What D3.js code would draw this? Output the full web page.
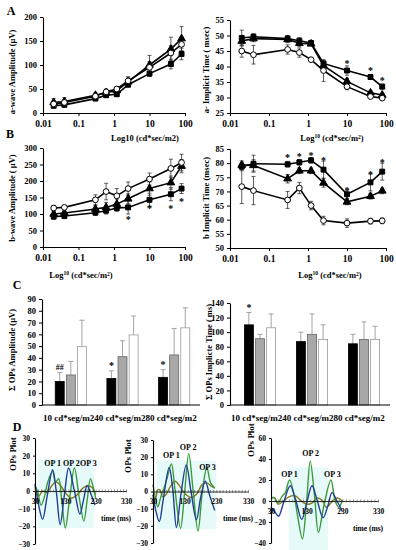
<!DOCTYPE html>
<html><head><meta charset="utf-8">
<script src="https://cdn.jsdelivr.net/npm/d3@7"></script>
<style>body{margin:0;background:#fff}svg text{font-family:"Liberation Serif","Times New Roman",serif;font-weight:bold;fill:#000}</style>
</head><body><svg id="c" width="396" height="550"></svg>
<script>
// ---------- DATA ----------
const intensity = [0.02, 0.04, 0.3, 0.6, 1.2, 2.5, 10, 40, 80];
const logTicks = [0.01, 0.1, 1, 10, 100];

const aAmpSquare = [15, 17, 30, 37, 39, 59, 82, 102, 123];
const aAmpSquareErr = [4, 4, 4, 4, 4, 5, 6, 10, 12];
const aAmpTriangle = [22, 24, 37, 42, 47, 65, 100, 133, 155];
const aAmpTriangleErr = [8, 8, 5, 5, 5, 10, 20, 25, 25];
const aAmpCircle = [19, 22, 35, 44, 50, 67, 95, 125, 143];
const aAmpCircleErr = [6, 6, 5, 6, 5, 8, 12, 15, 15];

const aTimeSquare = [49.2, 49.6, 49.0, 48.3, 47.6, 41.0, 38.7, 36.6, 33.5];
const aTimeSquareErr = [2.5, 1, 1, 1, 0.6, 0.8, 1.5, 0.8, 0.8];
const aTimeTriangle = [48.2, 49.0, 48.7, 47.5, 47.3, 40.3, 35.2, 31.5, 30.8];
const aTimeTriangleErr = [1.5, 1, 1, 1, 0.6, 0.8, 1, 0.6, 0.6];
const aTimeCircle = [45.0, 43.8, 45.5, 44.5, 42.2, 38.7, 33.5, 30.3, 29.8];
const aTimeCircleErr = [2, 3, 1.5, 1.5, 0.6, 3.5, 1, 0.6, 0.6];
const aTimeStarX = [10, 40, 80];
const aTimeStarY = [41.6, 39.4, 36.2];

const bAmpCircle = [118, 120, 143, 168, 155, 177, 206, 238, 256];
const bAmpCircleErr = [8, 6, 15, 25, 22, 20, 18, 28, 25];
const bAmpTriangle = [100, 103, 115, 120, 130, 146, 177, 195, 245];
const bAmpTriangleErr = [8, 8, 10, 15, 15, 15, 20, 20, 20];
const bAmpSquare = [92, 94, 104, 110, 118, 120, 143, 160, 177];
const bAmpSquareErr = [8, 8, 8, 10, 10, 20, 20, 20, 15];
const bAmpStarX = [2.5, 10, 40, 80];
const bAmpStarY = [88, 124, 122, 143];

const bTimeSquare = [78.8, 79.8, 79.6, 80.3, 81.0, 77.7, 69.0, 73.2, 77.0];
const bTimeSquareErr = [1.5, 3, 1, 1, 1, 3, 1.5, 3, 3];
const bTimeTriangle = [79.3, 79.2, 74.5, 77.3, 77.3, 73.0, 66.3, 68.3, 70.2];
const bTimeTriangleErr = [1.5, 2, 1.5, 1, 1, 1.5, 1, 1, 1];
const bTimeCircle = [71.7, 70.3, 67.0, 71.2, 65.0, 59.7, 58.8, 59.5, 59.6];
const bTimeCircleErr = [6, 5, 3, 2, 1.5, 1.5, 1.5, 1, 1];
const bTimeStarX = [0.3, 0.6, 1.2, 2.5, 10, 40, 80];
const bTimeStarY = [82.6, 82.9, 83.3, 81.8, 71.0, 76.8, 81.0];

const doseGroups = ["10", "40", "80"];
const barKinds = ["black", "gray", "white"];
const opsAmpBlack = [20, 22.5, 23.5];
const opsAmpBlackErr = [7.5, 6.5, 6.5];
const opsAmpGray = [25.5, 41, 42.5];
const opsAmpGrayErr = [11.5, 13.5, 22.5];
const opsAmpWhite = [49.5, 59.5, 65.5];
const opsAmpWhiteErr = [22.5, 16, 17];
const opsAmpMarks = ["##", "*", "*"];
const opsTimeBlack = [110, 87, 84];
const opsTimeBlackErr = [17, 13, 13];
const opsTimeGray = [91, 97, 90];
const opsTimeGrayErr = [6, 28, 24];
const opsTimeWhite = [106, 90, 90];
const opsTimeWhiteErr = [19, 20, 18];
const opsTimeMarks = ["*", "", ""];

const opTicks = [30, 130, 230, 330];
const d1Blue = [[30,4],[42,-8],[55,-16],[70,-3],[88,12],[100,0],[113,-19],[127,-2],[141,13],[160,0],[178,-13],[190,-5],[202,3],[215,-2],[228,-8]];
const d1Green = [[30,3],[38,0],[50,-8],[60,-4],[72,5],[88,11],[98,5],[108,7],[118,-5],[130,-21],[145,-3],[160,13],[176,-4],[191,-17],[202,-5],[213,7],[222,2],[230,-4]];
const d1Olive = [[30,2],[42,-3],[55,0],[70,-1],[85,3],[100,5],[115,3],[130,-1],[150,-4],[170,-2],[190,2],[205,3],[218,2],[230,-2]];
const d2Blue = [[30,-2],[40,-12],[50,-17.5],[62,-5],[81,14],[92,2],[104,-21],[118,-2],[135,15.5],[150,0],[167,-16.5],[181,-3],[195,6],[210,-3],[225,-11]];
const d2Green = [[30,4],[38,-4],[45,-9],[55,-3],[65,2],[75,8],[88,16],[100,0],[117,-21.5],[130,0],[143,22],[157,0],[172,-23],[186,0],[200,14],[212,5],[225,2]];
const d2Olive = [[30,-2],[38,-4],[45,1],[52,1],[60,-3],[70,-2],[85,3],[100,6],[115,3],[130,-1],[150,-3.5],[170,-1],[185,4],[200,5],[215,3],[225,2]];
const d3Green = [[30,3],[40,3],[50,-2],[60,4],[70,8],[82,20],[95,5],[105,-15],[118,-36],[130,0],[140,38],[152,5],[163,-30],[178,-5],[198,20],[210,0],[220,-6],[230,1]];
const d3Blue = [[30,-6],[40,-10],[51,-14.5],[65,-2],[84,14.5],[100,0],[116,-17.5],[130,-2],[145,14.5],[160,0],[176,-16],[190,-4],[201,8],[215,0],[230,-10]];
const d3Olive = [[30,3],[40,3],[50,-3],[65,0],[80,4],[97,5],[115,0],[130,-3],[145,-2],[160,3],[175,0],[185,-6],[205,1],[215,3],[230,0]];

// ---------- DRAW ----------
const svg = d3.select("#c");

function txt(g, x, y, s, size, anchor, rot) {
  const t = g.append("text").attr("x", x).attr("y", y).attr("font-size", size)
    .attr("text-anchor", anchor || "middle").attr("dy", "0.35em");
  if (rot) t.attr("transform", `rotate(${rot},${x},${y})`);
  if (Array.isArray(s)) {
    s.forEach(p => {
      const sp = t.append("tspan").text(p.t);
      if (p.sup) sp.attr("font-size", size * 0.65).attr("dy", "-0.45em");
      if (p.after) sp.attr("dy", "0.3em");
    });
  } else t.text(s);
  return t;
}
const logSup = [{t:"Log"},{t:"10",sup:true},{t:" (cd*sec/m",after:true},{t:"2",sup:true},{t:")",after:true}];

function styleAxis(a, size) {
  a.select(".domain").attr("stroke", "#000").attr("stroke-width", 1.1);
  a.selectAll(".tick line").attr("stroke", "#000");
  a.selectAll("text").attr("font-size", size).attr("font-family", null);
  a.attr("font-family", null);
}

function linePanel(p) {
  const g = svg.append("g");
  const x = d3.scaleLog().domain([0.01, 100]).range([p.x0, p.x1]);
  const y = d3.scaleLinear().domain(p.yDomain).range([p.yBot, p.yTop]);
  const ax = g.append("g").attr("transform", `translate(0,${p.yBot})`)
    .call(d3.axisBottom(x).tickValues(logTicks).tickFormat(d => String(d)).tickSize(3).tickSizeOuter(0).tickPadding(4));
  styleAxis(ax, 9.5);
  const ay = g.append("g").attr("transform", `translate(${p.x0},0)`)
    .call(d3.axisLeft(y).tickValues(p.yTicks).tickSize(3).tickSizeOuter(0).tickPadding(3));
  styleAxis(ay, 8.5);
  p.series.forEach(s => {
    const pts = intensity.map((v, i) => ({x: v, y: s.vals[i], e: s.errs[i]}));
    pts.forEach(d => {
      const cx = x(d.x);
      g.append("line").attr("x1", cx).attr("x2", cx).attr("y1", y(d.y - d.e)).attr("y2", y(d.y + d.e)).attr("stroke", "#333").attr("stroke-width", 0.8);
      [d.y - d.e, d.y + d.e].forEach(v => g.append("line").attr("x1", cx - 2).attr("x2", cx + 2).attr("y1", y(v)).attr("y2", y(v)).attr("stroke", "#333").attr("stroke-width", 0.8));
    });
  });
  p.series.forEach(s => {
    const pts = intensity.map((v, i) => [x(v), y(s.vals[i])]);
    g.append("path").attr("d", d3.line()(pts)).attr("fill", "none").attr("stroke", "#000").attr("stroke-width", 1.6);
  });
  p.series.forEach(s => {
    const sym = s.shape === "square" ? d3.symbolSquare : s.shape === "triangle" ? d3.symbolTriangle : d3.symbolCircle;
    const size = s.shape === "square" ? 24 : 26;
    intensity.forEach((v, i) => {
      g.append("path").attr("d", d3.symbol().type(sym).size(size)())
        .attr("transform", `translate(${x(v)},${y(s.vals[i])})`)
        .attr("fill", s.shape === "circle" ? "#fff" : "#000").attr("stroke", "#000").attr("stroke-width", 1);
    });
  });
  if (p.starX) p.starX.forEach((v, i) => txt(g, x(v), y(p.starY[i]) + 2, "*", 10));
  txt(g, p.ylabX, p.ylabY, p.ylab, 8.5, "middle", -90);
  txt(g, p.xlabX, p.xlabY, p.xlab, 8.5, "middle");
}

linePanel({x0: 43, x1: 185, yTop: 17, yBot: 113, yDomain: [0, 200], yTicks: [0,50,100,150,200],
  series: [{vals: aAmpSquare, errs: aAmpSquareErr, shape: "square"}, {vals: aAmpTriangle, errs: aAmpTriangleErr, shape: "triangle"}, {vals: aAmpCircle, errs: aAmpCircleErr, shape: "circle"}],
  ylab: "a-wave Amplitude (µV)", ylabX: 12, ylabY: 72, xlab: "Log10 (cd*sec/m2)", xlabX: 145, xlabY: 138});
linePanel({x0: 230, x1: 386, yTop: 20, yBot: 113, yDomain: [25, 55], yTicks: [25,30,35,40,45,50,55],
  series: [{vals: aTimeSquare, errs: aTimeSquareErr, shape: "square"}, {vals: aTimeTriangle, errs: aTimeTriangleErr, shape: "triangle"}, {vals: aTimeCircle, errs: aTimeCircleErr, shape: "circle"}],
  starX: aTimeStarX, starY: aTimeStarY,
  ylab: "a- Implicit Time ( msec)", ylabX: 206, ylabY: 70, xlab: logSup, xlabX: 332, xlabY: 138});
linePanel({x0: 43, x1: 185, yTop: 148, yBot: 247, yDomain: [0, 300], yTicks: [0,50,100,150,200,250,300],
  series: [{vals: bAmpSquare, errs: bAmpSquareErr, shape: "square"}, {vals: bAmpTriangle, errs: bAmpTriangleErr, shape: "triangle"}, {vals: bAmpCircle, errs: bAmpCircleErr, shape: "circle"}],
  starX: bAmpStarX, starY: bAmpStarY,
  ylab: "b-wave Amplitude ( µV)", ylabX: 12, ylabY: 198, xlab: logSup, xlabX: 81, xlabY: 275});
linePanel({x0: 230, x1: 386, yTop: 149, yBot: 248, yDomain: [50, 85], yTicks: [50,55,60,65,70,75,80,85],
  series: [{vals: bTimeSquare, errs: bTimeSquareErr, shape: "square"}, {vals: bTimeTriangle, errs: bTimeTriangleErr, shape: "triangle"}, {vals: bTimeCircle, errs: bTimeCircleErr, shape: "circle"}],
  starX: bTimeStarX, starY: bTimeStarY,
  ylab: "b Implicit Time (msec)", ylabX: 206, ylabY: 198, xlab: logSup, xlabX: 330, xlabY: 275});

function barPanel(p) {
  const g = svg.append("g");
  const x0 = d3.scaleBand().domain(doseGroups).range([p.bx0, p.bx1]);
  const x1 = d3.scaleBand().domain(barKinds).range([x0.bandwidth() / 2 - 16, x0.bandwidth() / 2 + 16]).paddingInner(0.12);
  const y = d3.scaleLinear().domain([0, p.ymax]).range([405, p.yTop]);
  const fills = {black: "#000", gray: "#a8a8a8", white: "#fff"};
  const strokes = {black: "#000", gray: "#666", white: "#999"};
  doseGroups.forEach((grp, gi) => {
    barKinds.forEach((k, ki) => {
      const v = p.vals[ki][gi], e = p.errs[ki][gi];
      const bx = x0(grp) + x1(k), bw = x1.bandwidth(), cx = bx + bw / 2;
      g.append("line").attr("x1", cx).attr("x2", cx).attr("y1", y(v)).attr("y2", y(v + e)).attr("stroke", "#999").attr("stroke-width", 0.9);
      g.append("line").attr("x1", cx - 2.5).attr("x2", cx + 2.5).attr("y1", y(v + e)).attr("y2", y(v + e)).attr("stroke", "#999").attr("stroke-width", 0.9);
      g.append("rect").attr("x", bx + 0.4).attr("y", y(v)).attr("width", bw - 0.8).attr("height", y(0) - y(v))
        .attr("fill", fills[k]).attr("stroke", strokes[k]).attr("stroke-width", 0.8);
    });
    const m = p.marks[gi];
    if (m) {
      const v = p.vals[0][gi] + p.errs[0][gi];
      txt(g, x0(grp) + x1("black") + x1.bandwidth() / 2, y(v) - 5, m, m === "*" ? 10 : 8);
    }
  });
  const ax = g.append("g").attr("transform", `translate(0,405)`)
    .call(d3.axisBottom(x0).tickFormat("").tickSize(0).tickSizeOuter(0));
  ax.select(".domain").attr("d", `M${p.ax0},0H${p.bx1}`).attr("stroke", "#000").attr("stroke-width", 1.1);
  const ay = g.append("g").attr("transform", `translate(${p.ax0},0)`)
    .call(d3.axisLeft(y).tickValues(p.yTicks).tickSize(3).tickSizeOuter(0).tickPadding(3));
  styleAxis(ay, 8.5);
  txt(g, p.ax0 + 1, 418, doseGroups.map(d => d + " cd*seg/m2").join(""), 9, "start");
  txt(g, p.ylabX, p.ylabY, p.ylab, 8.5, "middle", -90);
}
barPanel({ax0: 42, bx0: 45, bx1: 200, ymax: 90, yTop: 299, yTicks: d3.range(0, 91, 10),
  vals: [opsAmpBlack, opsAmpGray, opsAmpWhite], errs: [opsAmpBlackErr, opsAmpGrayErr, opsAmpWhiteErr], marks: opsAmpMarks,
  ylab: "Σ OPs Amplitude (µV)", ylabX: 12, ylabY: 350});
barPanel({ax0: 230, bx0: 234, bx1: 390, ymax: 140, yTop: 303, yTicks: d3.range(0, 141, 20),
  vals: [opsTimeBlack, opsTimeGray, opsTimeWhite], errs: [opsTimeBlackErr, opsTimeGrayErr, opsTimeWhiteErr], marks: opsTimeMarks,
  ylab: "Σ OPs Implicte Time ( ms)", ylabX: 209, ylabY: 352});

function opsPanel(p) {
  const g = svg.append("g");
  const x = d3.scaleLinear().domain([30, 330]).range([p.x0, p.x1]);
  const y = d3.scaleLinear().domain(p.yDomain).range([p.yBot, p.yTop]);
  g.append("rect").attr("x", x(p.shade[0])).attr("width", x(p.shade[1]) - x(p.shade[0]))
    .attr("y", y(p.shade[2])).attr("height", y(p.shade[3]) - y(p.shade[2])).attr("fill", "#e6fafa");
  const line = d3.line().x(d => x(d[0])).y(d => y(d[1])).curve(d3.curveCatmullRom.alpha(0.5));
  p.curves.forEach(c => g.append("path").attr("d", line(c.data)).attr("fill", "none").attr("stroke", c.color).attr("stroke-width", 1.4));
  const ay = g.append("g").attr("transform", `translate(${p.x0},0)`)
    .call(d3.axisLeft(y).tickValues(p.yTicks).tickSize(2).tickSizeOuter(0).tickPadding(3));
  styleAxis(ay, 7.5);
  const ax = g.append("g").attr("transform", `translate(0,${y(0)})`)
    .call(d3.axisBottom(x).tickValues(d3.range(30, 331, 10)).tickFormat(d => opTicks.includes(d) ? d : "").tickSize(1.5).tickSizeOuter(0).tickPadding(6));
  styleAxis(ax, 7.5);
  ax.select(".domain").attr("stroke-width", 0.8);
  ax.selectAll(".tick line").attr("y1", -1.5).attr("stroke-width", 0.6).attr("stroke", "#444");
  txt(g, p.x1 - 10, y(0) + 27, "time (ms)", 7.5);
  txt(g, p.ylabX, p.ylabY, "OPs Plot", 9, "middle", -90);
  p.labels.forEach(l => txt(g, x(l[0]), y(l[1]), l[2], 8));
}
opsPanel({x0: 35, x1: 126, yBot: 544, yTop: 438, yDomain: [-30, 30], yTicks: d3.range(-30, 31, 10), shade: [40, 225, 18, -21],
  curves: [{data: d1Olive, color: "#8a7a1e"}, {data: d1Green, color: "#3b9b3b"}, {data: d1Blue, color: "#1f3f96"}],
  labels: [[88, 16, "OP 1"], [150, 16, "OP 2"], [206, 16, "OP 3"]], ylabX: 13, ylabY: 454});
opsPanel({x0: 153, x1: 248, yBot: 543, yTop: 440, yDomain: [-30, 30], yTicks: d3.range(-30, 31, 10), shade: [42, 230, 18, -22],
  curves: [{data: d2Olive, color: "#8a7a1e"}, {data: d2Green, color: "#3b9b3b"}, {data: d2Blue, color: "#1f3f96"}],
  labels: [[88, 21, "OP 1"], [141, 26, "OP 2"], [202, 14, "OP 3"]], ylabX: 128, ylabY: 456});
opsPanel({x0: 271, x1: 378, yBot: 543, yTop: 438, yDomain: [-40, 60], yTicks: d3.range(-40, 61, 20), shade: [80, 190, 32, -48],
  curves: [{data: d3Olive, color: "#8a7a1e"}, {data: d3Green, color: "#3b9b3b"}, {data: d3Blue, color: "#1f3f96"}],
  labels: [[82, 26, "OP 1"], [141, 46, "OP 2"], [202, 26, "OP 3"]], ylabX: 251, ylabY: 440});

const L = svg.append("g");
txt(L, 11, 11, "A", 12); txt(L, 10, 134, "B", 12); txt(L, 17, 285, "C", 12); txt(L, 17, 427, "D", 12);
</script></body></html>
